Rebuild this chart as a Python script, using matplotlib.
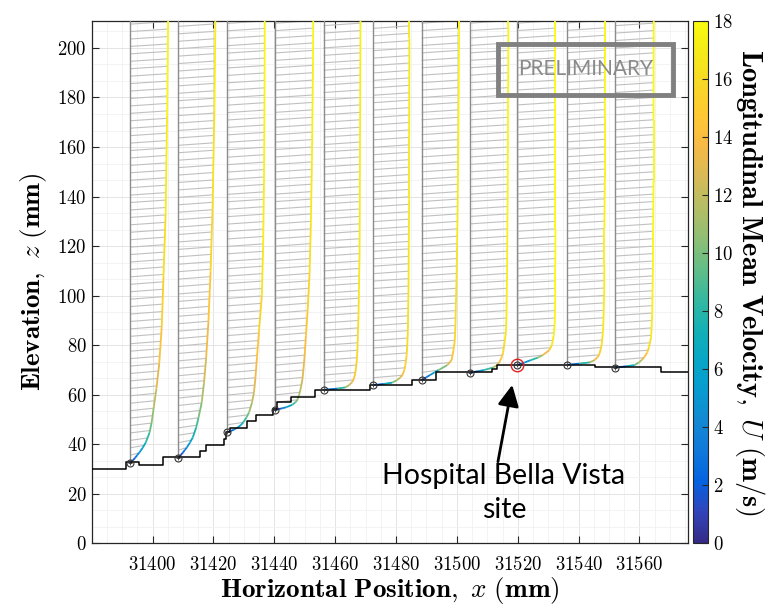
import numpy as np
import matplotlib
matplotlib.use("Agg")
from matplotlib import pyplot as plt
from matplotlib.collections import LineCollection
from matplotlib.colors import LinearSegmentedColormap, Normalize
from matplotlib.patches import Rectangle
from matplotlib.ticker import MultipleLocator

plt.rcParams['font.family'] = 'serif'
plt.rcParams['font.serif'] = ['cmr10']
plt.rcParams['mathtext.fontset'] = 'cm'
plt.rcParams['axes.formatter.use_mathtext'] = True
plt.rcParams['axes.unicode_minus'] = False

# parula (approx.)
parula = LinearSegmentedColormap.from_list('parula', [
    (0.2081, 0.1663, 0.5292), (0.1959, 0.2645, 0.7279), (0.0117, 0.3875, 0.8820),
    (0.0629, 0.4737, 0.8554), (0.0749, 0.5375, 0.8263), (0.0265, 0.6137, 0.8135),
    (0.0228, 0.6535, 0.7768), (0.0843, 0.6928, 0.7062), (0.2178, 0.7250, 0.6193),
    (0.3953, 0.7459, 0.5244), (0.5709, 0.7485, 0.4494), (0.7184, 0.7411, 0.3905),
    (0.8506, 0.7299, 0.3360), (0.9739, 0.7314, 0.2666), (0.9955, 0.7861, 0.1967),
    (0.9697, 0.8481, 0.1475), (0.9598, 0.9218, 0.0948), (0.9763, 0.9831, 0.0538)])

# profile stations (mm) and local ground elevation (mm)
station_x = [31392.6, 31408.5, 31424.5, 31440.4, 31456.2, 31472.5,
             31488.4, 31504.4, 31519.8, 31536.3, 31552.1]
station_z = [32.6, 34.7, 44.9, 54.0, 62.0, 63.9, 66.0, 69.0, 72.0, 72.1, 71.0]
site_idx = 8

# height above ground (mm) for the velocity samples
dz = [0, 0.5, 1, 2, 3, 4, 6, 8, 12, 16, 22, 30, 40, 55, 75, 100, 140, 180]

# longitudinal mean velocity (m/s) per profile
U = [
    [0, 0.9, 1.4, 2.4, 3.3, 4.3, 5.9, 7.3, 9.1, 10.1, 11.1, 12.4, 13.7, 14.9, 15.7, 16.7, 17.4, 17.9],
    [0, 0.6, 1.1, 2.1, 3.0, 3.9, 5.4, 6.7, 8.3, 9.4, 10.9, 12.0, 13.0, 14.1, 15.1, 16.0, 16.9, 17.4],
    [0, 1.7, 3.1, 5.1, 6.6, 7.6, 9.1, 10.3, 11.7, 12.6, 13.3, 14.0, 14.9, 16.3, 16.9, 17.3, 17.6, 17.7],
    [0, 2.9, 5.1, 7.9, 9.4, 10.3, 11.1, 11.7, 12.6, 13.1, 13.7, 14.3, 15.1, 16.0, 16.6, 17.1, 17.6, 17.9],
    [0, 6.4, 10.3, 12.1, 13.3, 14.0, 14.7, 15.1, 15.6, 15.9, 16.1, 16.4, 16.6, 16.9, 17.0, 17.1, 17.3, 17.4],
    [0, 5.0, 8.9, 11.1, 12.6, 13.7, 14.6, 15.1, 15.7, 16.0, 16.3, 16.4, 16.6, 16.7, 16.9, 16.9, 17.0, 17.0],
    [0, 1.1, 2.1, 4.0, 6.0, 8.0, 12.1, 14.1, 15.0, 15.6, 15.9, 16.1, 16.4, 16.7, 17.0, 17.3, 17.6, 17.7],
    [0, 3.6, 6.4, 10.7, 12.6, 13.6, 14.7, 15.4, 16.1, 16.7, 17.0, 17.1, 17.3, 17.4, 17.6, 17.7, 17.9, 17.9],
    [0, 1.7, 3.4, 6.4, 9.7, 12.0, 15.1, 16.3, 17.2, 17.6, 17.8, 17.9, 17.9, 18.0, 18.0, 18.0, 18.0, 18.0],
    [0, 5.7, 10.6, 12.9, 14.1, 14.9, 15.6, 16.1, 16.6, 16.9, 17.1, 17.3, 17.4, 17.4, 17.6, 17.6, 17.7, 17.7],
    [0, 5.0, 9.0, 10.9, 12.3, 13.4, 14.9, 15.7, 16.7, 17.0, 17.3, 17.4, 17.6, 17.7, 17.9, 17.9, 18.0, 18.0],
]

# terrain steps (x start, elevation)
terrain_x = [31380, 31391.3, 31395.5, 31403.5, 31415.5, 31417.6, 31423.6, 31424.3, 31425.3,
             31431.2, 31434.0, 31439.6, 31441.0, 31445.6, 31453.3, 31471.5, 31485.4,
             31493.1, 31511.5, 31513.3, 31545.3, 31567.2, 31576]
terrain_z = [30.0, 33.0, 31.8, 34.8, 37.3, 39.7, 42.0, 45.0, 46.7,
             49.6, 51.9, 54.2, 57.0, 59.0, 62.0, 63.9, 65.9,
             69.2, 70.5, 72.0, 71.1, 69.1, 69.1]

x_ticks = np.arange(31400, 31561, 20)

scale = 0.7   # mm of plot per m/s
top = 215

fig = plt.figure(figsize=(7.81, 6.08), dpi=100)
ax = fig.add_axes([0.1174, 0.1061, 0.7637, 0.8599])
cax = fig.add_axes([0.8870, 0.1061, 0.0200, 0.8599])

norm = Normalize(0, 18)

for x0, zg, u in zip(station_x, station_z, U):
    u = np.array(u)
    zz = zg + np.array(dz)
    xx = x0 + scale * u
    # hatch lines between the reference line and the profile
    zh = np.arange(zg, top, 3.0)
    xe = x0 + scale * np.interp(zh + 1.0, zz, u)
    hatch = [[(x0, a), (b, a + 1.0)] for a, b in zip(zh, xe)]
    ax.add_collection(LineCollection(hatch, colors='#c0c0c0', linewidths=0.8, zorder=2))
    ax.plot([x0, x0], [zg, top], color='#8c8c8c', lw=1.0, zorder=3)
    pts = np.column_stack([xx, zz]).reshape(-1, 1, 2)
    segs = np.concatenate([pts[:-1], pts[1:]], axis=1)
    lc = LineCollection(segs, cmap=parula, norm=norm, linewidths=1.3, zorder=4)
    lc.set_array(0.5 * (u[:-1] + u[1:]))
    ax.add_collection(lc)

ax.step(terrain_x, terrain_z, where='post', color='k', lw=1.1, zorder=5)

ax.plot(station_x, station_z, 'o', ms=5, mfc='none', mec='#333333', mew=0.8, zorder=6)
ax.plot(station_x, station_z, '+', ms=3, mec='#333333', mew=0.6, zorder=6)
ax.plot(station_x[site_idx], station_z[site_idx], 'o', ms=9, mfc='none', mec='#e02020', mew=1.0, zorder=7)

ax.set_xlim(31380, 31576)
ax.set_ylim(0, 211)
ax.set_xticks(x_ticks)
ax.xaxis.set_minor_locator(MultipleLocator(5))
ax.yaxis.set_major_locator(MultipleLocator(20))
ax.yaxis.set_minor_locator(MultipleLocator(20 / 3))
ax.grid(which='major', color='#e4e4e4', lw=0.7, zorder=0)
ax.grid(which='minor', color='#f1f1f1', lw=0.6, zorder=0)
ax.set_axisbelow(True)
ax.tick_params(which='both', direction='in', top=True, right=True, labelsize=13.5,
               colors='#262626', labelcolor='k')
ax.tick_params(which='major', length=5)
ax.tick_params(axis='x', which='major', pad=9)
ax.tick_params(which='minor', length=0)
for s in ax.spines.values():
    s.set_color('#262626')
    s.set_linewidth(0.9)

ax.set_xlabel(r'$\mathbf{Horizontal\ Position,}\ x\ \mathbf{(mm)}$', fontsize=19.5, labelpad=1)
ax.set_ylabel(r'$\mathbf{Elevation,}\ z\ \mathbf{(mm)}$', fontsize=19.5, labelpad=6)

# preliminary stamp
ax.add_patch(Rectangle((0.681, 0.858), 0.294, 0.0975, transform=ax.transAxes,
                       fill=False, ec='#808080', lw=3.5, zorder=8))
ax.text(0.828, 0.907, 'PRELIMINARY', transform=ax.transAxes, ha='center', va='center',
        fontsize=15, color='#8a8a8a', family='Lato', zorder=8)

# site annotation
ax.annotate('', xy=(31518.2, 64.0), xytext=(31513.5, 33.0),
            arrowprops=dict(arrowstyle='-|>', color='k', lw=2.0, mutation_scale=32,
                            shrinkA=0, shrinkB=0), zorder=9)
ax.text(31515.5, 32.5, 'Hospital Bella Vista\nsite', ha='center', va='top',
        fontsize=20.5, family='Lato', linespacing=1.4, zorder=9)

# colorbar
sm = plt.cm.ScalarMappable(norm=norm, cmap=parula)
cb = fig.colorbar(sm, cax=cax, ticks=np.arange(0, 19, 2))
cb.outline.set_edgecolor('#262626')
cb.outline.set_linewidth(0.8)
cax.tick_params(direction='in', length=4, labelsize=13.5, colors='#262626', labelcolor='k')
cb.set_label(r'$\mathbf{Longitudinal\ Mean\ Velocity,}\ U\ \mathbf{(m/s)}$',
             fontsize=20.5, rotation=270, labelpad=24)

fig.savefig('out.png', dpi=100)
